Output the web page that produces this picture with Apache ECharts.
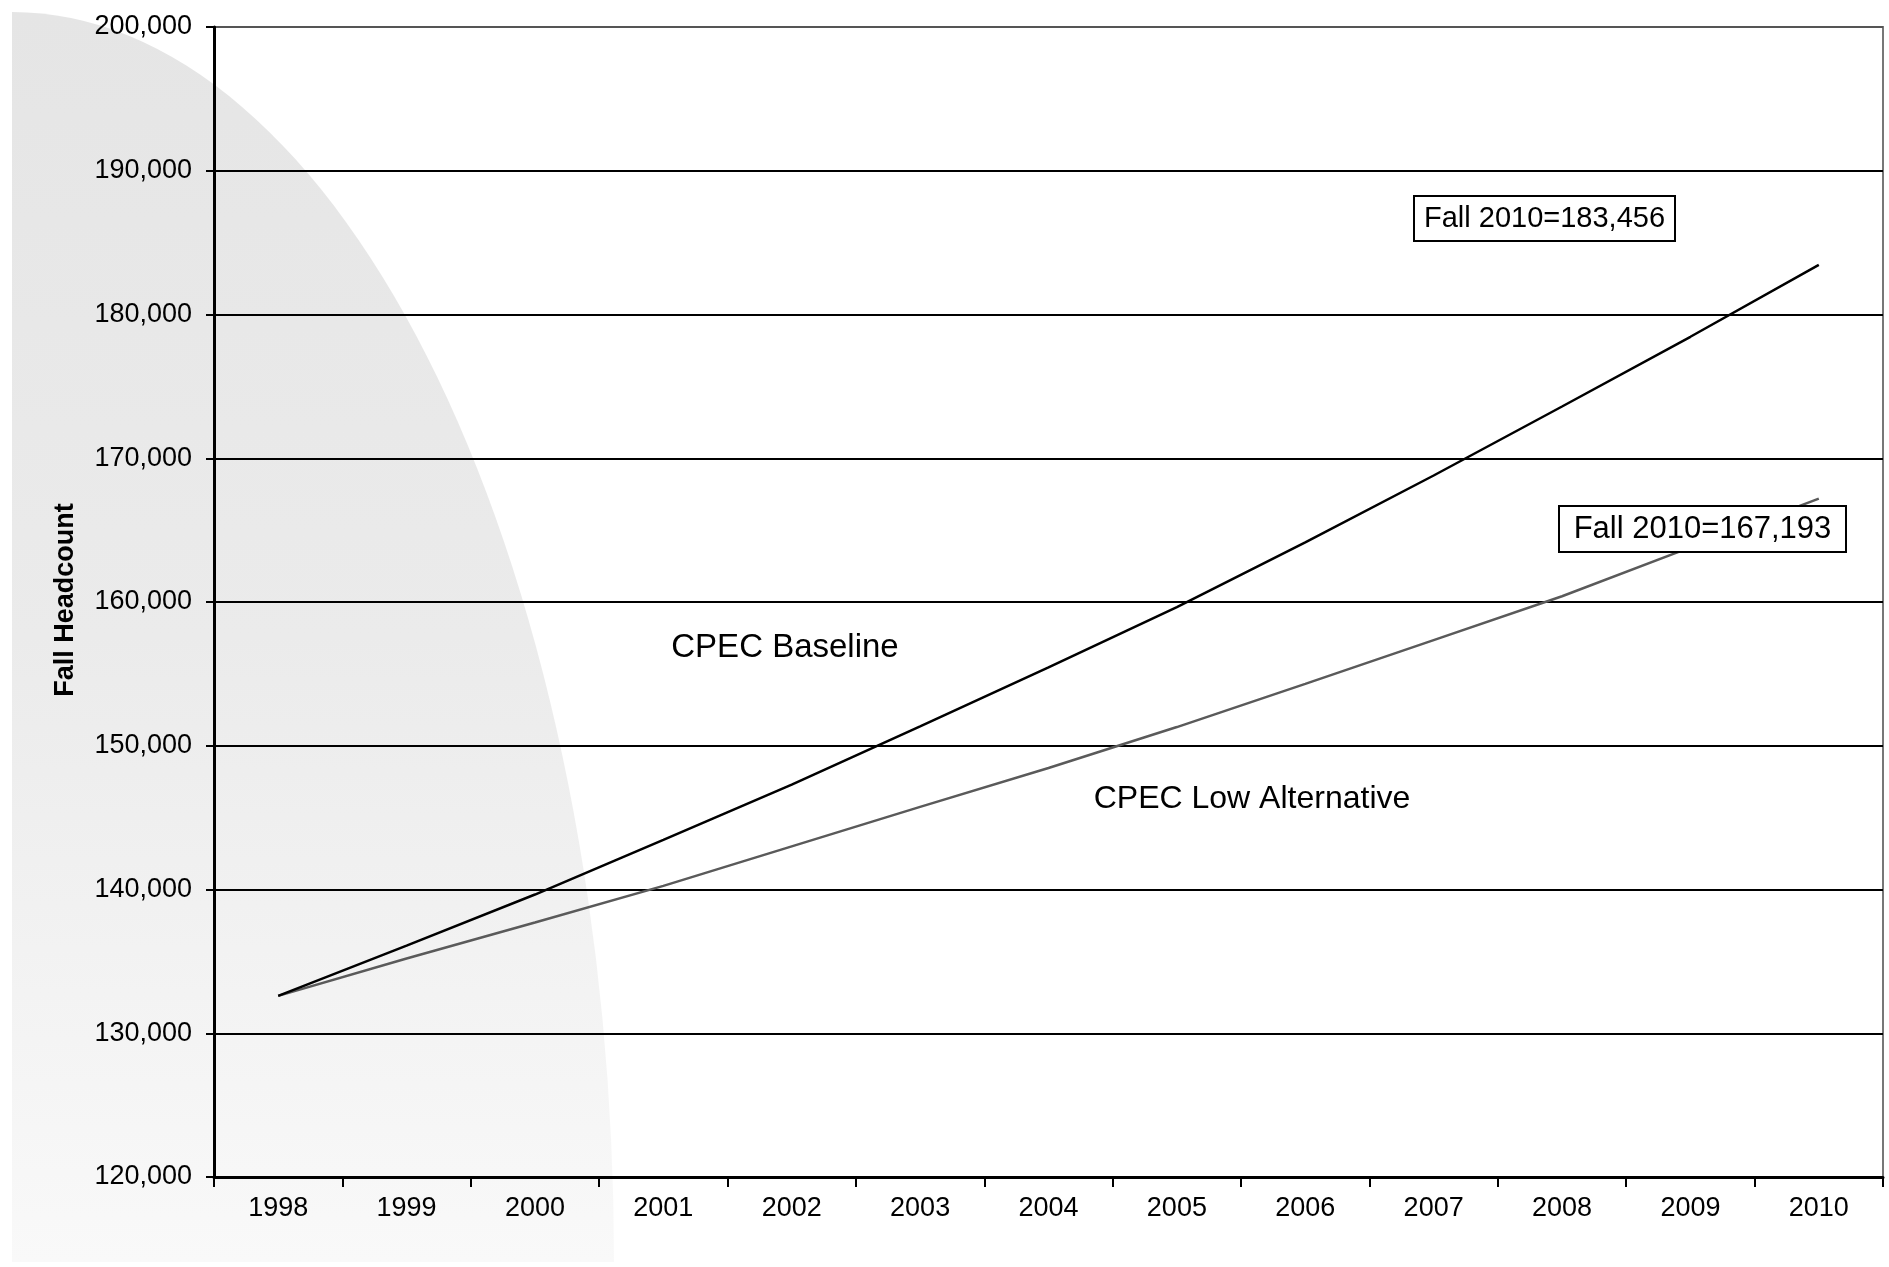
<!DOCTYPE html>
<html>
<head>
<meta charset="utf-8">
<script src="https://cdn.jsdelivr.net/npm/echarts@6/dist/echarts.min.js"></script>
<style>
html,body{margin:0;padding:0;background:#fff;}
#c{width:1889px;height:1267px;}
</style>
</head>
<body>
<div id="c"></div>
<script>
const years = ['1998','1999','2000','2001','2002','2003','2004','2005','2006','2007','2008','2009','2010'];
const baseline = [132600,136100,139650,143450,147300,151350,155450,159650,164150,168800,173600,178450,183456];
const lowAlt = [132600,135200,137700,140250,143000,145750,148450,151300,154300,157350,160400,163800,167193];
const yTicks = {min:120000, max:200000, step:10000};
const seriesNames = ['CPEC Baseline','CPEC Low Alternative'];
const notes = ['Fall 2010=183,456','Fall 2010=167,193'];
const yName = 'Fall Headcount';

const FONT = '"Liberation Sans", Arial, sans-serif';
const chart = echarts.init(document.getElementById('c'), null, {renderer:'canvas'});

const splitColors = [];
for (let v = yTicks.min; v <= yTicks.max; v += yTicks.step) splitColors.push(v === yTicks.max ? '#555' : '#000');

chart.setOption({
  backgroundColor:'#fff',
  animation:false,
  grid:{left:214, right:6, top:27, bottom:90, show:true, borderColor:'#777', borderWidth:2, backgroundColor:'transparent'},
  xAxis:{
    type:'category', data:years, boundaryGap:true,
    axisLine:{show:true, lineStyle:{color:'#000', width:3}},
    axisTick:{show:true, length:10, lineStyle:{color:'#000', width:2}},
    axisLabel:{color:'#000', fontFamily:FONT, fontSize:27, margin:18},
    splitLine:{show:false}
  },
  yAxis:{
    type:'value', min:yTicks.min, max:yTicks.max, interval:yTicks.step,
    axisLine:{show:true, lineStyle:{color:'#000', width:3}},
    axisTick:{show:true, length:8, lineStyle:{color:'#000', width:2}},
    axisLabel:{color:'#000', fontFamily:FONT, fontSize:27, margin:22,
      formatter:v=>v.toLocaleString('en-US')},
    splitLine:{show:true, lineStyle:{color:splitColors, width:2}}
  },
  series:[
    {name:seriesNames[0], type:'line', data:baseline, symbol:'none', z:5,
     lineStyle:{color:'#000', width:2.5}},
    {name:seriesNames[1], type:'line', data:lowAlt, symbol:'none', z:4,
     lineStyle:{color:'#5a5a5a', width:2.5}}
  ],
  graphic:[
    {type:'sector', z:-10, silent:true, x:12, y:1262, scaleX:602/1250,
     shape:{cx:0, cy:0, r0:0, r:1250, startAngle:-Math.PI/2, endAngle:0, clockwise:true},
     style:{fill:new echarts.graphic.LinearGradient(0,0,0,1,[
       {offset:0,color:'#e5e5e5'},{offset:0.5,color:'#ebebeb'},{offset:1,color:'#f9f9f9'}])}},
    {type:'text', z:10, x:66, y:600, rotation:Math.PI/2,
     style:{text:yName, font:'bold 27px '+FONT, fill:'#000', align:'center', verticalAlign:'middle'}},
    {type:'text', z:10, x:785, y:648,
     style:{text:seriesNames[0], font:'33px '+FONT, fill:'#000', align:'center', verticalAlign:'middle'}},
    {type:'text', z:10, x:1252, y:799,
     style:{text:seriesNames[1], font:'32px '+FONT, fill:'#000', align:'center', verticalAlign:'middle'}},
    {type:'rect', z:10, shape:{x:1414, y:196, width:261, height:45},
     style:{fill:'#fff', stroke:'#000', lineWidth:2}},
    {type:'text', z:11, x:1544.5, y:219,
     style:{text:notes[0], font:'29px '+FONT, fill:'#000', align:'center', verticalAlign:'middle'}},
    {type:'rect', z:10, shape:{x:1559, y:506, width:287, height:46},
     style:{fill:'#fff', stroke:'#000', lineWidth:2}},
    {type:'text', z:11, x:1702.5, y:529,
     style:{text:notes[1], font:'31px '+FONT, fill:'#000', align:'center', verticalAlign:'middle'}}
  ]
});
</script>
</body>
</html>
